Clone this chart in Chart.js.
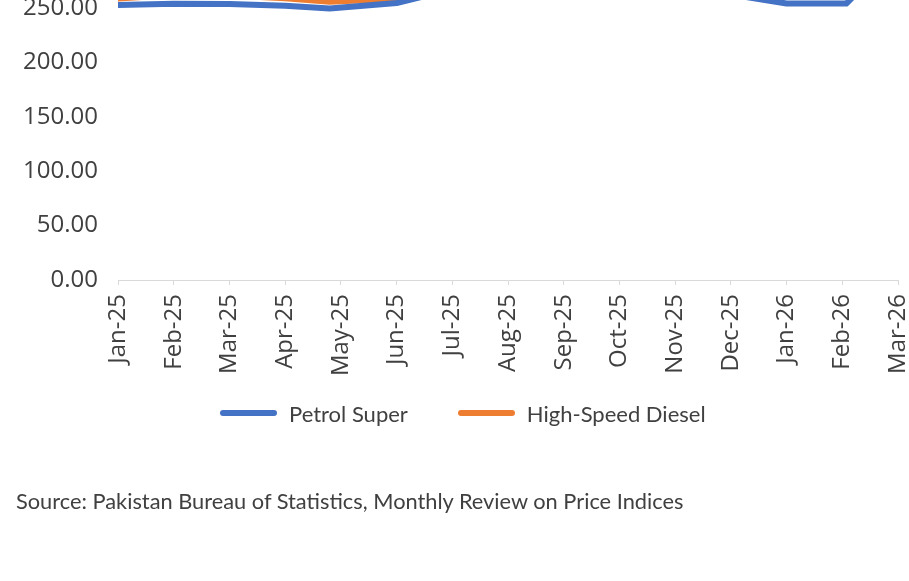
<!DOCTYPE html>
<html><head><meta charset="utf-8">
<script src="https://cdn.jsdelivr.net/npm/chart.js@4.4.1/dist/chart.umd.min.js"></script>
<style>
html,body{margin:0;padding:0;background:#fff;width:909px;height:581px;overflow:hidden;position:relative;font-family:'Open Sans',sans-serif}
#wrap{position:absolute;left:0;top:-120px;width:909px;height:701px}
#legend{position:absolute;top:401px;left:220px;height:24px;display:flex;align-items:center;font-family:'Lato',sans-serif;font-size:22px;color:#404040;white-space:nowrap}
#legend .item{display:flex;align-items:center;margin-right:50px}
#legend .sw{width:57px;height:6px;border-radius:3px;margin-right:12px}
#source{position:absolute;left:16px;top:488px;font-family:'Lato',sans-serif;font-size:21.8px;color:#404040;white-space:nowrap;line-height:26px}
</style></head>
<body>
<div id="wrap"><canvas id="c"></canvas></div>
<div id="legend"></div>
<div id="source">Source: Pakistan Bureau of Statistics, Monthly Review on Price Indices</div>
<script>
const tickLabels = ['Jan-25','Feb-25','Mar-25','Apr-25','May-25','Jun-25','Jul-25','Aug-25','Sep-25','Oct-25','Nov-25','Dec-25','Jan-26','Feb-26','Mar-26'];
const seriesNames = ['Petrol Super','High-Speed Diesel'];
const seriesColors = ['#4472C4','#ED7D31'];
const petrolDates = ['2025-01-01','2025-02-01','2025-03-01','2025-04-01','2025-04-25','2025-06-01','2025-07-01','2025-08-01','2025-09-01','2025-10-01','2025-11-01','2025-12-01','2026-01-01','2026-02-03','2026-03-01'];
const petrolValues = [252.8,254.0,253.7,252.0,249.5,254.6,267.2,270.0,264.5,266.0,266.0,262.4,254.1,254.1,302.0];
const dieselDates = petrolDates;
const dieselValues = [258.8,262.0,261.5,259.0,255.8,258.6,272.0,275.0,271.0,274.0,276.0,271.0,266.0,266.0,325.0];

function monthPos(s){
  const p = s.split('-').map(Number);
  const idx = (p[0]-2025)*12 + (p[1]-1);
  const dim = new Date(Date.UTC(p[0], p[1], 0)).getUTCDate();
  return idx + (p[2]-1)/dim;
}
function pts(dates, vals){ return dates.map((d,i)=>({x:monthPos(d), y:vals[i]})); }

const tickFont = {family:"'Open Sans', sans-serif", size:24};
const textColor = '#404040';

const chart = new Chart(document.getElementById('c'), {
  type:'line',
  data:{
    datasets:[
      {label:seriesNames[0], data:pts(petrolDates, petrolValues), borderColor:seriesColors[0], backgroundColor:seriesColors[0], borderWidth:6, pointRadius:0, tension:0, borderCapStyle:'round', borderJoinStyle:'round', fill:false},
      {label:seriesNames[1], data:pts(dieselDates, dieselValues), borderColor:seriesColors[1], backgroundColor:seriesColors[1], borderWidth:6, pointRadius:0, tension:0, borderCapStyle:'round', borderJoinStyle:'round', fill:false}
    ]
  },
  options:{
    responsive:true, maintainAspectRatio:false, animation:false,
    layout:{padding:{top:19.2, right:11, left:0, bottom:0}},
    plugins:{legend:{display:false}, tooltip:{enabled:false}},
    scales:{
      x:{
        type:'linear', min:0, max:tickLabels.length-1,
        afterBuildTicks:(axis)=>{ axis.ticks = tickLabels.map((_,i)=>({value:i})); },
        ticks:{autoSkip:false, maxRotation:90, minRotation:90, padding:9, color:textColor, font:tickFont,
          callback:(v)=>tickLabels[Math.round(v)]},
        grid:{drawOnChartArea:false, drawTicks:true, tickLength:5, color:'#d9d9d9', lineWidth:1},
        border:{display:true, color:'#d9d9d9', width:1},
        afterFit:(s)=>{ s.height = 301; s.paddingLeft = 0; s.paddingRight = 0; }
      },
      y:{
        min:0, max:350,
        ticks:{stepSize:50, padding:20, color:textColor, font:tickFont, callback:(v)=>Number(v).toFixed(2)},
        grid:{display:false, drawTicks:false},
        border:{display:false},
        afterFit:(s)=>{ s.width = 118; s.paddingTop = 0; s.paddingBottom = 0; }
      }
    }
  }
});

const leg = document.getElementById('legend');
chart.data.datasets.forEach(ds=>{
  const it = document.createElement('div'); it.className='item';
  const sw = document.createElement('div'); sw.className='sw'; sw.style.background = ds.borderColor;
  const tx = document.createElement('span'); tx.textContent = ds.label;
  it.appendChild(sw); it.appendChild(tx); leg.appendChild(it);
});
</script>
</body></html>
